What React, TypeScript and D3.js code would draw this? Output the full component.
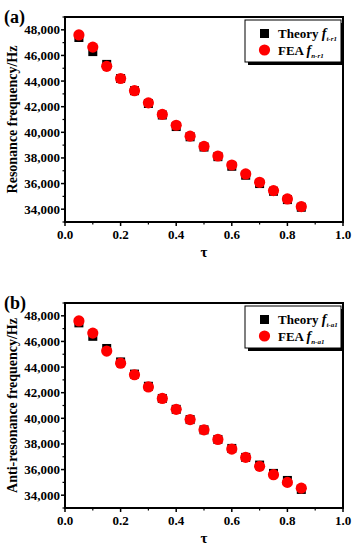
import React from 'react'
import * as d3 from 'd3'

const taus = [0.05, 0.1, 0.15, 0.2, 0.25, 0.3, 0.35, 0.4, 0.45, 0.5, 0.55, 0.6, 0.65, 0.7, 0.75, 0.8, 0.85]

const theoryR = [47400, 46300, 45300, 44200, 43250, 42250, 41350, 40450, 39650, 38850, 38100, 37350, 36650, 36000, 35400, 34750, 34150]
const feaR = [47600, 46650, 45150, 44200, 43250, 42300, 41400, 40550, 39700, 38900, 38150, 37450, 36750, 36100, 35450, 34800, 34200]

const theoryA = [47450, 46400, 45450, 44400, 43450, 42500, 41550, 40700, 39900, 39100, 38350, 37650, 36950, 36350, 35700, 35150, 34450]
const feaA = [47600, 46650, 45250, 44300, 43400, 42450, 41550, 40700, 39900, 39100, 38350, 37600, 36950, 36250, 35600, 35000, 34550]

const xTicks = [0, 0.2, 0.4, 0.6, 0.8, 1.0]
const yTicks = [34000, 36000, 38000, 40000, 42000, 44000, 46000, 48000]

const font = "'Liberation Serif', 'DejaVu Serif', serif"

const Panel = ({ top, tag, yLabel, theory, fea, subT, subF }) => {
  const left = 65
  const right = 343
  const height = 205
  const x = d3.scaleLinear().domain([0, 1]).range([left, right])
  const y = d3.scaleLinear().domain([33000, 49000]).range([top + height, top])
  const bottom = top + height
  const minorX = d3.range(0.1, 1, 0.2)
  const minorY = d3.range(33000, 49001, 2000)
  const fmt = d3.format(',')
  const lx = 245
  const ly = top + 3

  return (
    <g fontFamily={font} fontWeight="bold">
      <text x={4} y={top + 6} fontSize={18}>{tag}</text>
      {taus.map((t, i) => (
        <rect key={'t' + i} x={x(t) - 4.5} y={y(theory[i]) - 4.5} width={9} height={9} fill="#000" />
      ))}
      {taus.map((t, i) => (
        <circle key={'f' + i} cx={x(t)} cy={y(fea[i])} r={5.6} fill="#ff0000" />
      ))}
      <rect x={left} y={top} width={right - left} height={height} fill="none" stroke="#000" strokeWidth={2} />
      {xTicks.map((t) => (
        <g key={'xt' + t}>
          <line x1={x(t)} x2={x(t)} y1={bottom} y2={bottom + 4} stroke="#000" strokeWidth={1.5} />
          <text x={x(t)} y={bottom + 17} fontSize={13} textAnchor="middle">{t.toFixed(1)}</text>
        </g>
      ))}
      {minorX.map((t) => (
        <line key={'xm' + t} x1={x(t)} x2={x(t)} y1={bottom} y2={bottom + 2.5} stroke="#000" strokeWidth={1.2} />
      ))}
      {yTicks.map((v) => (
        <g key={'yt' + v}>
          <line x1={left - 4} x2={left} y1={y(v)} y2={y(v)} stroke="#000" strokeWidth={1.5} />
          <text x={left - 5} y={y(v) + 4.5} fontSize={13} textAnchor="end">{fmt(v)}</text>
        </g>
      ))}
      {minorY.map((v) => (
        <line key={'ym' + v} x1={left - 2.5} x2={left} y1={y(v)} y2={y(v)} stroke="#000" strokeWidth={1.2} />
      ))}
      <text x={x(0.5)} y={bottom + 35} fontSize={15} textAnchor="middle">τ</text>
      <text
        transform={`translate(17,${top + height / 2}) rotate(-90)`}
        fontSize={14}
        textAnchor="middle"
      >{yLabel}</text>
      <rect x={lx + 3} y={ly + 3} width={96} height={42} fill="#000" />
      <rect x={lx} y={ly} width={96} height={42} fill="#fff" stroke="#000" strokeWidth={1} />
      <rect x={lx + 15} y={ly + 9} width={9} height={9} fill="#000" />
      <circle cx={lx + 19.5} cy={ly + 30} r={5.6} fill="#ff0000" />
      <text x={lx + 33} y={ly + 18} fontSize={13}>
        Theory <tspan fontStyle="italic" fontSize={14}>f</tspan>
        <tspan fontStyle="italic" fontSize={7} dy={3}>{subT}</tspan>
      </text>
      <text x={lx + 33} y={ly + 35} fontSize={13}>
        FEA <tspan fontStyle="italic" fontSize={14}>f</tspan>
        <tspan fontStyle="italic" fontSize={7} dy={3}>{subF}</tspan>
      </text>
    </g>
  )
}

export default function App() {
  return (
    <svg width={357} height={550} style={{ position: 'absolute', left: 0, top: 0, background: '#fff' }}>
      <Panel top={17} tag="(a)" yLabel="Resonance frequency/Hz" theory={theoryR} fea={feaR} subT="t-r1" subF="n-r1" />
      <Panel top={303} tag="(b)" yLabel="Anti-resonance frequency/Hz" theory={theoryA} fea={feaA} subT="t-a1" subF="n-a1" />
    </svg>
  )
}
